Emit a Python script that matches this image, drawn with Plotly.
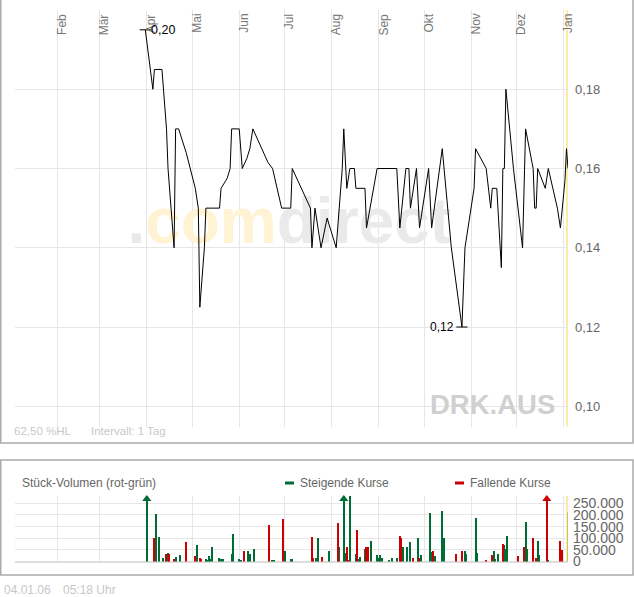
import plotly.graph_objects as go

# ---------------- data ----------------
price_dates = [
    "2005-03-31", "2005-04-04", "2005-04-05", "2005-04-06", "2005-04-11", "2005-04-14",
    "2005-04-15", "2005-04-18", "2005-04-19", "2005-04-20", "2005-04-22", "2005-04-27",
    "2005-05-02", "2005-05-03", "2005-05-05", "2005-05-06", "2005-05-09", "2005-05-10",
    "2005-05-19", "2005-05-20", "2005-05-24", "2005-05-26", "2005-05-27", "2005-06-01",
    "2005-06-03", "2005-06-06", "2005-06-08", "2005-06-10", "2005-06-20", "2005-06-23",
    "2005-06-29", "2005-07-05", "2005-07-06", "2005-07-18", "2005-07-19", "2005-07-21",
    "2005-07-25", "2005-07-29", "2005-08-04", "2005-08-08", "2005-08-09", "2005-08-11",
    "2005-08-13", "2005-08-16", "2005-08-17", "2005-08-23", "2005-08-24", "2005-08-31",
    "2005-09-13", "2005-09-15", "2005-09-19", "2005-09-21", "2005-09-22", "2005-09-26",
    "2005-09-28", "2005-10-04", "2005-10-06", "2005-10-13", "2005-10-19", "2005-10-26",
    "2005-10-28", "2005-11-03", "2005-11-04", "2005-11-11", "2005-11-14", "2005-11-15",
    "2005-11-18", "2005-11-21", "2005-11-22", "2005-11-23", "2005-11-24", "2005-11-29",
    "2005-12-05", "2005-12-07", "2005-12-12", "2005-12-13", "2005-12-14", "2005-12-15",
    "2005-12-20", "2005-12-22", "2005-12-28", "2005-12-30", "2006-01-02", "2006-01-03",
    "2006-01-04",
]
price_values = [
    0.195, 0.1825, 0.18, 0.185, 0.185, 0.17,
    0.16, 0.145, 0.14, 0.17, 0.17, 0.164,
    0.156, 0.155, 0.15, 0.125, 0.14, 0.15,
    0.15, 0.155, 0.1575, 0.16, 0.17, 0.17,
    0.16, 0.1625, 0.165, 0.17, 0.1615, 0.16,
    0.15, 0.15, 0.16, 0.15, 0.14, 0.15,
    0.14, 0.1475, 0.14, 0.16, 0.17, 0.155,
    0.16, 0.16, 0.155, 0.155, 0.145, 0.16,
    0.16, 0.145, 0.16, 0.16, 0.15, 0.16,
    0.145, 0.16, 0.145, 0.165, 0.14, 0.12,
    0.14, 0.155, 0.165, 0.16, 0.15, 0.155,
    0.155, 0.135, 0.16, 0.16, 0.18, 0.16,
    0.14, 0.17, 0.16, 0.15, 0.15, 0.16,
    0.155, 0.16, 0.15, 0.145, 0.157, 0.165,
    0.16,
]

vol_up_dates = [
    "2005-04-01", "2005-04-07", "2005-04-09", "2005-04-12", "2005-04-15", "2005-04-20",
    "2005-04-23", "2005-05-04", "2005-05-10", "2005-05-11", "2005-05-12", "2005-05-13",
    "2005-05-14", "2005-05-19", "2005-05-20", "2005-05-21", "2005-05-27", "2005-05-28",
    "2005-06-01", "2005-06-02", "2005-06-07", "2005-06-08", "2005-06-11", "2005-06-23",
    "2005-06-24", "2005-07-01", "2005-07-05", "2005-07-06", "2005-07-22", "2005-07-23",
    "2005-07-30", "2005-08-06", "2005-08-09", "2005-08-10", "2005-08-13", "2005-08-17",
    "2005-08-19", "2005-08-20", "2005-08-23", "2005-08-27", "2005-08-31", "2005-09-01",
    "2005-09-02", "2005-09-03", "2005-09-08", "2005-09-10", "2005-09-13", "2005-09-17",
    "2005-09-20", "2005-09-22", "2005-09-27", "2005-09-29", "2005-10-05", "2005-10-06",
    "2005-10-08", "2005-10-13", "2005-10-14", "2005-10-28", "2005-10-29", "2005-11-04",
    "2005-11-05", "2005-11-16", "2005-11-17", "2005-11-19", "2005-11-23", "2005-11-24",
    "2005-11-25", "2005-12-07", "2005-12-08", "2005-12-15", "2005-12-16", "2005-12-22",
]
vol_up_values = [
    420000, 204000, 105000, 14000, 36000, 19000,
    27000, 70000, 10000, 6000, 23000, 10000,
    62000, 14000, 10000, 10000, 32000, 118000,
    10000, 6000, 45000, 32000, 52000, 6000,
    6000, 45000, 10000, 10000, 14000, 101000,
    45000, 62000, 400000, 36000, 280000, 32000,
    10000, 19000, 53000, 88000, 27000, 14000,
    27000, 14000, 6000, 14000, 14000, 62000,
    62000, 83000, 101000, 27000, 208000, 40000,
    23000, 217000, 101000, 45000, 32000, 187000,
    36000, 45000, 10000, 32000, 70000, 53000,
    109000, 170000, 53000, 88000, 27000, 6000,
]

vol_down_dates = [
    "2005-04-06", "2005-04-14", "2005-04-16", "2005-04-19", "2005-04-27", "2005-05-03",
    "2005-05-06", "2005-05-07", "2005-06-04", "2005-06-21", "2005-06-30", "2005-07-19",
    "2005-07-20", "2005-07-26", "2005-08-05", "2005-08-11", "2005-08-12", "2005-08-18",
    "2005-08-24", "2005-08-25", "2005-09-15", "2005-09-16", "2005-09-24", "2005-09-28",
    "2005-10-07", "2005-10-22", "2005-10-26", "2005-11-11", "2005-11-15", "2005-11-22",
    "2005-12-02", "2005-12-06", "2005-12-12", "2005-12-14", "2005-12-21", "2005-12-30",
    "2005-12-31",
]
vol_down_values = [
    99000, 32000, 32000, 10000, 83000, 23000,
    14000, 10000, 45000, 157000, 183000, 105000,
    14000, 19000, 165000, 62000, 6000, 135000,
    62000, 62000, 109000, 101000, 14000, 14000,
    45000, 32000, 45000, 6000, 27000, 75000,
    23000, 62000, 101000, 14000, 380000, 88000,
    49000,
]

vol_today_dates = ["2006-01-04"]
vol_today_values = [213000]

month_ticks = [
    "2005-02-01", "2005-03-01", "2005-04-01", "2005-05-01", "2005-06-01", "2005-07-01",
    "2005-08-01", "2005-09-01", "2005-10-01", "2005-11-01", "2005-12-01", "2006-01-01",
]
month_labels = ["Feb", "Mär", "Apr", "Mai", "Jun", "Jul", "Aug", "Sep", "Okt", "Nov", "Dez", "Jan"]
price_ticks = [0.10, 0.12, 0.14, 0.16, 0.18]
vol_ticks = [0, 50000, 100000, 150000, 200000, 250000]

# ---------------- layout helpers ----------------
W, H = 634, 597
FONT = "Liberation Sans, Arial, sans-serif"
GRID = "#E6E6E6"
GREEN = "#006B35"
RED = "#CC0000"
X_RANGE = ["2005-01-04", "2006-01-04"]
PRICE_RANGE = [0.0949, 0.2]
VOL_RANGE = [0, 281500]
DAY_MS = 86400000


def px_x(p):
    return p / W


def px_y(p):
    return 1 - p / H


fig = go.Figure()

# watermark (drawn first so the price line stays on top)
fig.add_trace(go.Scatter(
    x=["2005-07-04"], y=[0.1452], mode="text",
    text=["<span style='color:#E9E9E9'>.</span><span style='color:#FFF3D4'>com</span>"
          "<span style='color:#EAEAEA'>direct</span>"],
    textfont=dict(family="Liberation Sans, Arial", size=64, weight="bold"),
    textposition="middle center", hoverinfo="skip", showlegend=False,
    xaxis="x", yaxis="y", cliponaxis=False,
))

# price line
fig.add_trace(go.Scatter(
    x=price_dates, y=price_values, mode="lines",
    line=dict(color="#000000", width=1), hoverinfo="skip", showlegend=False,
    xaxis="x", yaxis="y",
))

# max / min markers
i_max = max(range(len(price_values)), key=lambda i: price_values[i])
i_min = min(range(len(price_values)), key=lambda i: price_values[i])
fig.add_trace(go.Scatter(
    x=[price_dates[i_max], price_dates[i_min]],
    y=[price_values[i_max], price_values[i_min]],
    mode="markers",
    marker=dict(symbol="line-ew", size=8, line=dict(color="#000000", width=1)),
    hoverinfo="skip", showlegend=False, xaxis="x", yaxis="y", cliponaxis=False,
))


def fmt2(v):
    return f"{v + 1e-9:.2f}".replace(".", ",")


# volume bars
bar_w = 0.75 * DAY_MS
fig.add_trace(go.Bar(x=vol_up_dates, y=vol_up_values, width=bar_w,
                     marker=dict(color=GREEN, line=dict(width=0)),
                     hoverinfo="skip", showlegend=False, xaxis="x2", yaxis="y2"))
fig.add_trace(go.Bar(x=vol_down_dates, y=vol_down_values, width=bar_w,
                     marker=dict(color=RED, line=dict(width=0)),
                     hoverinfo="skip", showlegend=False, xaxis="x2", yaxis="y2"))
fig.add_trace(go.Bar(x=vol_today_dates, y=vol_today_values, width=bar_w,
                     marker=dict(color="#C9C36C", line=dict(width=0)),
                     hoverinfo="skip", showlegend=False, xaxis="x2", yaxis="y2"))

# overflow arrows
top_y = VOL_RANGE[1] * 0.955
for dates, vals, col in ((vol_up_dates, vol_up_values, GREEN), (vol_down_dates, vol_down_values, RED)):
    od = [d for d, v in zip(dates, vals) if v > VOL_RANGE[1]]
    if od:
        fig.add_trace(go.Scatter(
            x=od, y=[top_y] * len(od), mode="markers",
            marker=dict(symbol="triangle-up", size=8, color=col, line=dict(width=0)),
            hoverinfo="skip", showlegend=False, xaxis="x2", yaxis="y2", cliponaxis=False,
        ))

x_dom = [px_x(15), px_x(568)]
axis_common = dict(
    type="date", range=X_RANGE, tickvals=month_ticks, showticklabels=False,
    showgrid=True, gridcolor=GRID, gridwidth=1, zeroline=False, showline=False, ticks="",
    automargin=False,
)

annotations = []
# month labels
for d, lab in zip(month_ticks, month_labels):
    annotations.append(dict(
        x=d, xref="x", y=px_y(12), yref="paper", text=lab, textangle=-90,
        xanchor="left", yanchor="top", showarrow=False, xshift=-4,
        font=dict(family=FONT, size=12, color="#777777"),
    ))
# max/min labels
annotations.append(dict(
    x=price_dates[i_max], y=price_values[i_max], xref="x", yref="y",
    text=fmt2(price_values[i_max]), xanchor="left", yanchor="middle", xshift=4,
    showarrow=False, font=dict(family=FONT, size=12.5, color="#000000"),
))
annotations.append(dict(
    x=price_dates[i_min], y=price_values[i_min], xref="x", yref="y",
    text=fmt2(price_values[i_min]), xanchor="right", yanchor="middle", xshift=-6,
    showarrow=False, font=dict(family=FONT, size=12, color="#000000"),
))


def txt(x, y, s, size, color, anchor="left", bold=False, family=FONT):
    annotations.append(dict(
        x=px_x(x), y=px_y(y), xref="paper", yref="paper", text=s,
        xanchor=anchor, yanchor="middle", showarrow=False,
        font=dict(family=family, size=size, color=color, weight="bold" if bold else "normal"),
    ))


txt(557, 404, "DRK.AUS", 27.5, "#D0D0D0", anchor="right", bold=True)
txt(12, 431, "62,50 %HL", 11.5, "#C8C8C8")
txt(89, 431, "Intervall: 1 Tag", 11.5, "#C8C8C8")
txt(20, 482.5, "Stück-Volumen (rot-grün)", 12, "#666666")
txt(298, 482.5, "Steigende Kurse", 12, "#666666")
txt(468, 482.5, "Fallende Kurse", 12, "#666666")
txt(2, 590, "04.01.06", 12, "#C8C8C8")
txt(61, 590, "05:18 Uhr", 12, "#C8C8C8")

BORDER = "#ABABAB"
shapes = [
    # main panel frame
    dict(type="rect", xref="paper", yref="paper", x0=px_x(0.75), x1=px_x(633),
         y0=px_y(443), y1=px_y(-5), line=dict(color=BORDER, width=1.5), layer="below"),
    # volume panel frame
    dict(type="rect", xref="paper", yref="paper", x0=px_x(0.75), x1=px_x(633),
         y0=px_y(575), y1=px_y(460), line=dict(color=BORDER, width=1.5), layer="below"),
    # legend swatches
    dict(type="line", xref="paper", yref="paper", x0=px_x(285), x1=px_x(294),
         y0=px_y(483), y1=px_y(483), line=dict(color=GREEN, width=3)),
    dict(type="line", xref="paper", yref="paper", x0=px_x(455), x1=px_x(464),
         y0=px_y(483), y1=px_y(483), line=dict(color=RED, width=3)),
    # current day markers
    dict(type="line", xref="x", yref="paper", x0=price_dates[-1], x1=price_dates[-1],
         y0=px_y(426.5), y1=px_y(10), line=dict(color="#FDE9A8", width=4), layer="below"),
    dict(type="line", xref="x", yref="paper", x0=price_dates[-1], x1=price_dates[-1],
         y0=px_y(561.5), y1=px_y(496), line=dict(color="#FDE9A8", width=4), layer="below"),
]

fig.update_layout(
    width=W, height=H, autosize=False,
    margin=dict(l=0, r=0, t=0, b=0, pad=0, autoexpand=False),
    paper_bgcolor="white", plot_bgcolor="rgba(0,0,0,0)",
    separators=",.", showlegend=False, barmode="overlay", bargap=0,
    font=dict(family=FONT),
    xaxis=dict(domain=x_dom, anchor="y", **axis_common),
    yaxis=dict(domain=[px_y(426.5), px_y(10)], range=PRICE_RANGE, side="right",
               tickvals=price_ticks, tickformat=".2f", showgrid=True, gridcolor=GRID,
               zeroline=False, showline=False, ticks="", ticklabelstandoff=6, automargin=False,
               tickfont=dict(family=FONT, size=13, color="#666666"), anchor="x"),
    xaxis2=dict(domain=x_dom, anchor="y2", matches="x", **axis_common),
    yaxis2=dict(domain=[px_y(561.5), px_y(496)], range=VOL_RANGE, side="right",
                tickvals=vol_ticks, tickformat=",d", showgrid=True, gridcolor=GRID,
                zeroline=True, zerolinecolor="#DDDDDD", zerolinewidth=2,
                showline=False, ticks="", ticklabelstandoff=4, automargin=False,
                tickfont=dict(family=FONT, size=14, color="#666666"), anchor="x2"),
    annotations=annotations,
    shapes=shapes,
)

fig.write_html(
    "out.html",
    config={"displayModeBar": False, "responsive": False},
    post_script=(
        "var st=document.createElement('style');"
        "st.textContent='html,body{margin:0;padding:0;overflow:hidden;}';"
        "document.head.appendChild(st);"
    ),
)
